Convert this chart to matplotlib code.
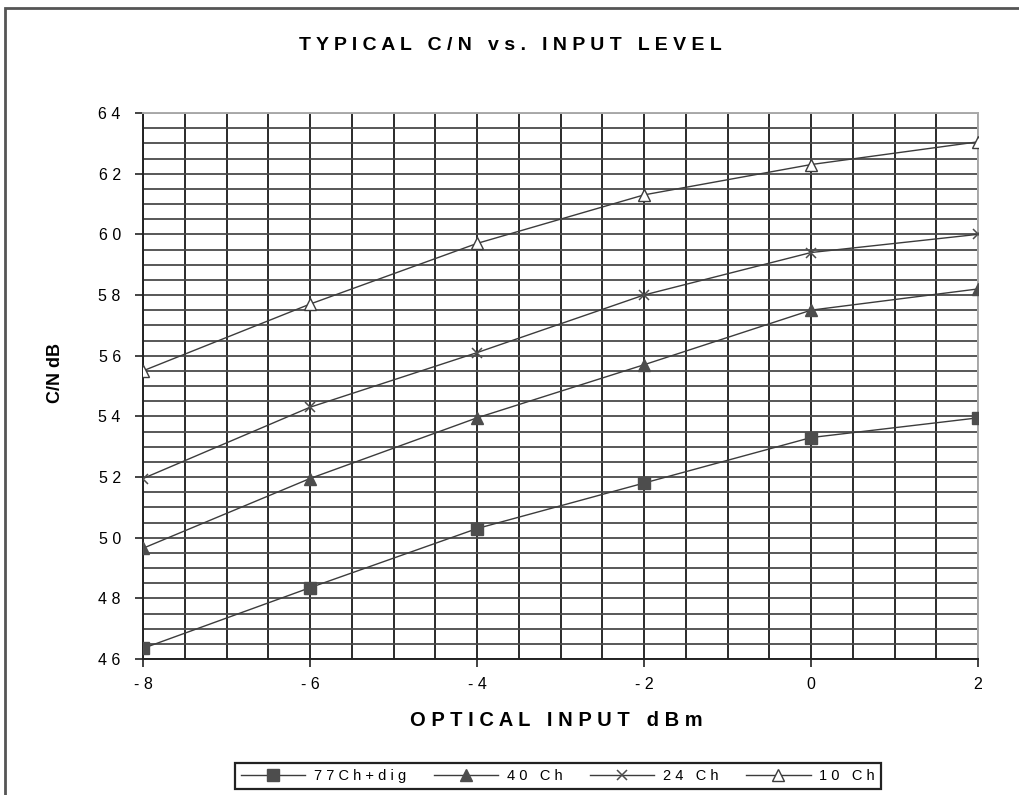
import numpy as np
import matplotlib
matplotlib.use("Agg")
import matplotlib.pyplot as plt
from matplotlib.patches import Rectangle
from matplotlib.ticker import MultipleLocator

# data
optical_input = [-8, -6, -4, -2, 0, 2]
cn_77ch_dig = [46.35, 48.35, 50.3, 51.8, 53.3, 53.95]
cn_40ch = [49.65, 51.95, 53.95, 55.7, 57.5, 58.2]
cn_24ch = [51.95, 54.3, 56.1, 58.0, 59.4, 60.0]
cn_10ch = [55.5, 57.7, 59.7, 61.3, 62.3, 63.05]
series_labels = ["77Ch+dig", "40 Ch", "24 Ch", "10 Ch"]

title = "TYPICAL C/N vs. INPUT LEVEL"
xlabel = "OPTICAL INPUT dBm"
ylabel = "C/N dB"

FONT = ["Liberation Sans", "DejaVu Sans"]


def spaced(s):
    # old Excel-style letter spacing
    return " ".join(s)


fig = plt.figure(figsize=(10.19, 7.95), dpi=100)
ax = fig.add_axes([143 / 1019, 1 - 659 / 795, (978 - 143) / 1019, (659 - 113) / 795])

line_col = "#3c3c3c"
mark_col = "#4d4d4d"
ax.plot(optical_input, cn_77ch_dig, color=line_col, lw=1.0, marker="s", ms=8,
        mfc=mark_col, mec=mark_col, label=spaced(series_labels[0]), zorder=3)
ax.plot(optical_input, cn_40ch, color=line_col, lw=1.0, marker="^", ms=9,
        mfc=mark_col, mec=mark_col, label=spaced(series_labels[1]), zorder=3)
ax.plot(optical_input, cn_24ch, color=line_col, lw=1.0, marker="x", ms=7, mew=1.1,
        mec=mark_col, label=spaced(series_labels[2]), zorder=3)
ax.plot(optical_input, cn_10ch, color=line_col, lw=1.0, marker="^", ms=9,
        mfc="white", mec=line_col, mew=1.0, label=spaced(series_labels[3]), zorder=3)

ax.set_xlim(-8, 2)
ax.set_ylim(46, 64)
ax.xaxis.set_minor_locator(MultipleLocator(0.5))
ax.yaxis.set_minor_locator(MultipleLocator(0.5))

xt = np.arange(-8, 3, 2)
ax.set_xticks(xt)
ax.set_xticklabels([spaced(str(v)) for v in xt], family=FONT, fontsize=11.5)
yt = np.arange(46, 65, 2)
ax.set_yticks(yt)
ax.set_yticklabels([spaced(str(v)) for v in yt], family=FONT, fontsize=11.5)

ax.tick_params(axis="both", which="major", length=6, width=1.2, color="#222")
ax.tick_params(axis="x", which="major", pad=7)
ax.tick_params(axis="y", which="major", pad=10)
ax.tick_params(axis="both", which="minor", length=0)

ax.grid(True, axis="x", which="both", color="#2a2a2a", lw=1.4, zorder=1)
ax.grid(True, axis="y", which="both", color="#4a4a4a", lw=1.3, zorder=1)
ax.set_axisbelow(True)

for side in ["left", "bottom"]:
    ax.spines[side].set_color("#222")
    ax.spines[side].set_linewidth(1.4)
for side in ["right", "top"]:
    ax.spines[side].set_color("#aaaaaa")
    ax.spines[side].set_linewidth(1.4)

fig.text(510 / 1019, 1 - 45 / 795, spaced(title), ha="center", va="center",
         family=FONT, fontweight="bold", fontsize=14)
fig.text(556 / 1019, 1 - 720 / 795, spaced(xlabel), ha="center", va="center",
         family=FONT, fontweight="bold", fontsize=14.5)
fig.text(55 / 1019, 1 - 373 / 795, ylabel, ha="center", va="center", rotation=90,
         family=FONT, fontweight="bold", fontsize=13)

leg = fig.legend(loc="center", bbox_to_anchor=(558 / 1019, 1 - 776 / 795), ncol=4,
                 prop={"family": FONT, "size": 10.5}, handlelength=4.4,
                 columnspacing=1.9, handletextpad=0.6, borderpad=0.4,
                 fancybox=False, framealpha=1)
leg.get_frame().set_edgecolor("#222")
leg.get_frame().set_linewidth(1.6)

# page border, cut off on the right and bottom like the scan
fig.patches.append(Rectangle((5 / 1019, -0.05), 1.2, 1.05 - 8 / 795,
                             transform=fig.transFigure, fill=False,
                             edgecolor="#555", lw=2))

fig.savefig("out.png", dpi=100)
